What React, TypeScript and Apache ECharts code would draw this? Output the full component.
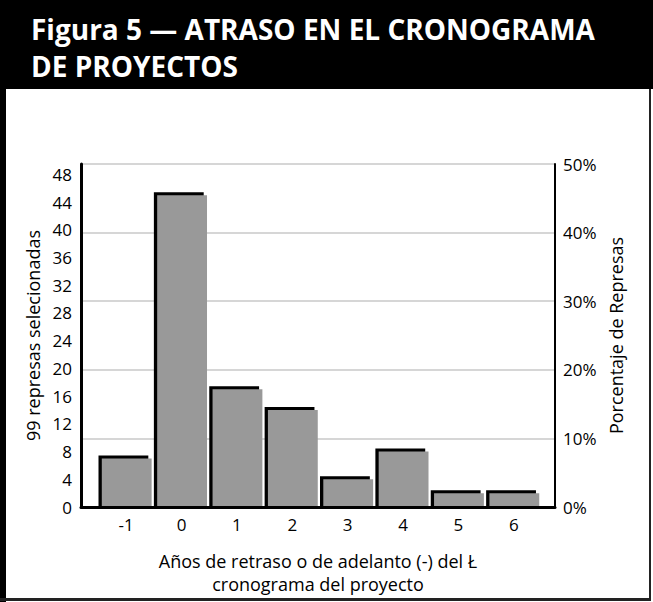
import React, { useEffect, useRef } from "react";
import * as echarts from "echarts";

const titleLine1 = "Figura 5 — ATRASO EN EL CRONOGRAMA";
const titleLine2 = "DE PROYECTOS";
const categories = ["-1", "0", "1", "2", "3", "4", "5", "6"];
const counts = [7, 45, 17, 14, 4, 8, 2, 2];
const totalRepresas = 99;
const leftAxisName = "99 represas selecionadas";
const rightAxisName = "Porcentaje de Represas";
const xAxisName = "Años de retraso o de adelanto (-) del Ł\ncronograma del proyecto";

const FONT = "'Open Sans', 'Noto Sans', sans-serif";

export default function App() {
  const ref = useRef<HTMLDivElement>(null);
  useEffect(() => {
    if (!ref.current) return;
    const chart = echarts.init(ref.current, undefined, { renderer: "svg" });
    const leftMax = totalRepresas * 0.5;
    const titleStyle = {
      color: "#fff",
      fontFamily: FONT,
      fontWeight: "bold",
      fontSize: 28,
      lineHeight: 32,
    };
    const option: any = {
      animation: false,
      backgroundColor: "#fff",
      title: [
        { text: titleLine1, left: 31, top: 13, padding: 0, textStyle: titleStyle, z: 10 },
        { text: titleLine2, left: 31, top: 50, padding: 0, textStyle: titleStyle, z: 10 },
      ],
      graphic: [
        { type: "rect", z: 0, shape: { x: 0, y: 0, width: 653, height: 89 }, style: { fill: "#000" } },
        { type: "rect", z: 0, shape: { x: 0, y: 89, width: 6, height: 513 }, style: { fill: "#000" } },
        { type: "rect", z: 0, shape: { x: 649, y: 89, width: 2, height: 511 }, style: { fill: "#222" } },
        { type: "rect", z: 0, shape: { x: 0, y: 598, width: 651, height: 3 }, style: { fill: "#222" } },
      ],
      grid: [
        { left: 81, right: 98, top: 164, bottom: 95 },
        { left: 98.5, right: 111.5, top: 164, bottom: 95 },
      ],
      xAxis: [
        {
          gridIndex: 0,
          type: "value",
          min: 0,
          max: 1,
          axisLine: { show: true, lineStyle: { color: "#000", width: 3 } },
          axisTick: { show: false },
          axisLabel: { show: false },
          splitLine: { show: false },
          name: xAxisName,
          nameLocation: "middle",
          nameGap: 42,
          nameTextStyle: { fontFamily: FONT, fontSize: 18, color: "#000", lineHeight: 23 },
        },
        {
          gridIndex: 1,
          type: "category",
          data: categories,
          axisLine: { show: false },
          axisTick: { show: false },
          axisLabel: { fontFamily: FONT, fontSize: 17, color: "#000", margin: 9 },
        },
      ],
      yAxis: [
        {
          gridIndex: 0,
          type: "value",
          position: "left",
          min: 0,
          max: leftMax,
          interval: 4,
          axisLine: { show: true, lineStyle: { color: "#000", width: 3 } },
          axisTick: { show: false },
          splitLine: { show: false },
          axisLabel: { fontFamily: FONT, fontSize: 17, color: "#000", margin: 9, showMaxLabel: false },
          name: leftAxisName,
          nameLocation: "middle",
          nameRotate: 90,
          nameGap: 35,
          nameTextStyle: { fontFamily: FONT, fontSize: 18, color: "#000" },
        },
        {
          gridIndex: 0,
          type: "value",
          position: "right",
          min: 0,
          max: 50,
          interval: 10,
          axisLine: { show: true, lineStyle: { color: "#000", width: 2 } },
          axisTick: { show: false },
          splitLine: { show: true, lineStyle: { color: "#c8c8c8", width: 1.5 } },
          axisLabel: { fontFamily: FONT, fontSize: 17, color: "#000", margin: 8, formatter: "{value}%" },
          name: rightAxisName,
          nameLocation: "middle",
          nameRotate: 90,
          nameGap: 52,
          nameTextStyle: { fontFamily: FONT, fontSize: 18, color: "#000" },
        },
        {
          gridIndex: 1,
          type: "value",
          min: 0,
          max: leftMax,
          show: false,
        },
      ],
      series: [
        {
          type: "custom",
          xAxisIndex: 1,
          yAxisIndex: 2,
          data: counts.map((v, i) => [i, v]),
          encode: { x: 0, y: 1 },
          z: 5,
          renderItem: (params: any, api: any) => {
            const idx = api.value(0);
            const v = api.value(1);
            const base = api.coord([idx, 0]);
            const top = api.coord([idx, v]);
            const band = api.size([1, 0])[0];
            const x0 = base[0] - band / 2;
            const w = band * 0.9;
            const h = base[1] - top[1];
            return {
              type: "group",
              children: [
                { type: "rect", shape: { x: x0, y: top[1] - 3, width: w, height: h + 3 }, style: { fill: "#000" } },
                { type: "rect", shape: { x: x0 + 3.3, y: top[1], width: w, height: h - 1 }, style: { fill: "#999999" } },
              ],
            };
          },
        },
      ],
    };
    chart.setOption(option);
    return () => chart.dispose();
  }, []);
  return (
    <div
      ref={ref}
      style={{ position: "absolute", left: 0, top: 0, width: 653, height: 602 }}
    />
  );
}
